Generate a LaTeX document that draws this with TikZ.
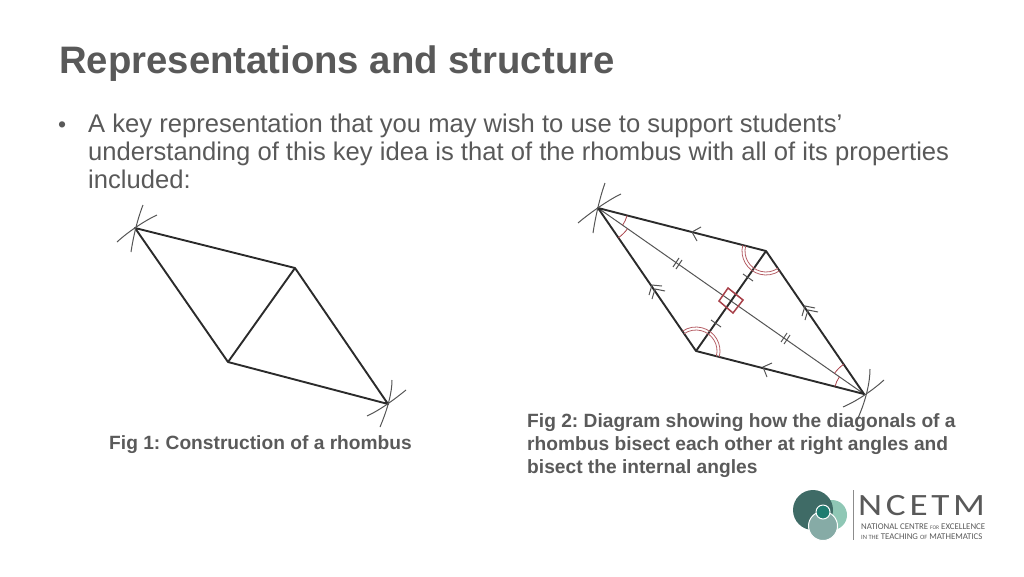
\documentclass[tikz,border=0pt]{standalone}
\usepackage{fontspec}
\setmainfont{Liberation Sans}
\newfontfamily\logofont{Carlito}
\newfontfamily\logowide[LetterSpace=12,FakeStretch=1.2]{Carlito}
\definecolor{txt}{HTML}{595959}
\definecolor{lab}{HTML}{5A5A5A}
\definecolor{edge}{HTML}{2B2B2B}
\definecolor{mark}{HTML}{555555}
\definecolor{ang}{HTML}{A8414A}
\definecolor{logodark}{HTML}{3F6B66}
\definecolor{logolight}{HTML}{8FC7B5}
\definecolor{logomid}{HTML}{86ABA6}
\definecolor{logocore}{HTML}{1F7C70}
\tikzset{
  edgeline/.style={draw=edge,line width=1.9pt},
  diagline/.style={draw=mark,line width=1pt},
  compass/.style={draw=mark,line width=1pt},
  tickmark/.style={draw=mark,line width=1pt},
  anglemark/.style={draw=ang,line width=0.8pt},
  doublemark/.style={draw=ang!85!white,line width=0.8pt},
  textline/.style={anchor=base west,inner sep=0pt,text=txt,font=\fontsize{25.6}{28}\selectfont},
  caption/.style={anchor=base west,inner sep=0pt,text=lab,font=\frenchspacing\bfseries\fontsize{19.18}{23}\selectfont},
  logosmall/.style={anchor=base west,inner sep=0pt,text=txt,font=\logofont\fontsize{8.8}{9}\selectfont}
}
\begin{document}
\begin{tikzpicture}[x=1pt,y=-1pt]
\useasboundingbox (0,0) rectangle (1024,576);
% title and body
\node[anchor=base west,inner sep=0pt,text=txt,font=\bfseries\fontsize{38.3}{40}\selectfont] (title) at (59,73) {Representations and structure};
\node[anchor=base west,inner sep=0pt,text=txt,font=\fontsize{23}{28}\selectfont] (bullet) at (58,132) {•};
\node[textline] (l1) at (88,132) {A key representation that you may wish to use to support students’};
\node[textline] (l2) at (88,160) {understanding of this key idea is that of the rhombus with all of its properties};
\node[textline] (l3) at (88,188) {included:};
% Fig 1
\coordinate (A) at (135,228);
\coordinate (B) at (295,268);
\coordinate (C) at (388,404);
\coordinate (D) at (228,362);
\draw[edgeline,line join=round] (A) -- (B) -- (C) -- (D) -- cycle;
\draw[edgeline] (B) -- (D);
\draw[compass] (143,205) .. controls (139,215) and (134,232) .. (131,252);
\draw[compass] (157,215) .. controls (148,219) and (130,230) .. (117,242);
\draw[compass] (392,380) .. controls (392,392) and (388,408) .. (380,427);
\draw[compass] (406,390) .. controls (396,398) and (382,409) .. (367,416);
\node[caption] (cap1) at (109,449) {Fig 1: Construction of a rhombus};
% Fig 2
\coordinate (P) at (598,208);
\coordinate (Q) at (766,251);
\coordinate (R) at (864,394);
\coordinate (S) at (696,351);
\draw[diagline] (P) -- (R);
\draw[edgeline,line join=round] (P) -- (Q) -- (R) -- (S) -- cycle;
\draw[edgeline] (Q) -- (S);
\draw[compass] (605,183) .. controls (601,194) and (596,213) .. (593,233);
\draw[compass] (621,194) .. controls (612,198) and (592,211) .. (578,223);
\draw[compass] (870,369) .. controls (870,382) and (866,400) .. (858,418);
\draw[compass] (884,380) .. controls (874,389) and (859,400) .. (843,407);
% parallel marks
\draw[tickmark] (701,227) -- (692,232) -- (697,241);
\draw[tickmark] (772,363) -- (763,367) -- (767,377);
\draw[tickmark] (662,286) -- (652,285) -- (649,295);
\draw[tickmark] (665,291) -- (655,289) -- (652,299);
\draw[tickmark] (815,308) -- (805,306) -- (802,316);
\draw[tickmark] (818,312) -- (808,310) -- (805,320);
% equal marks
\draw[tickmark] (673,267) -- (679,258);
\draw[tickmark] (676,269) -- (682,260);
\draw[tickmark] (781,342) -- (787,333);
\draw[tickmark] (784,344) -- (790,335);
\draw[tickmark] (743,274) -- (753,281);
\draw[tickmark] (711,320) -- (721,327);
% right angle
\draw[draw=ang,line width=1.5pt,line join=miter] (728,288) -- (743,300) -- (733,313) -- (719,301) -- cycle;
% angle marks
\draw[doublemark] (Q) ++(165.6:21pt) arc[start angle=165.6,end angle=304.4,radius=21pt];
\draw[doublemark] (Q) ++(165.6:24pt) arc[start angle=165.6,end angle=304.4,radius=24pt];
\draw[doublemark] (S) ++(-14.4:21pt) arc[start angle=-14.4,end angle=124.4,radius=21pt];
\draw[doublemark] (S) ++(-14.4:24pt) arc[start angle=-14.4,end angle=124.4,radius=24pt];
\draw[anglemark] (P) ++(-14.4:30pt) arc[start angle=-14.4,end angle=-35,radius=30pt];
\draw[anglemark] (P) ++(-35:36pt) arc[start angle=-35,end angle=-55.6,radius=36pt];
\draw[anglemark] (R) ++(165.6:30pt) arc[start angle=165.6,end angle=145,radius=30pt];
\draw[anglemark] (R) ++(145:36pt) arc[start angle=145,end angle=124.4,radius=36pt];
\node[caption] (cap2a) at (527,427.7) {Fig 2: Diagram showing how the diagonals of a};
\node[caption] (cap2b) at (527,450.7) {rhombus bisect each other at right angles and};
\node[caption] (cap2c) at (527,473.7) {bisect the internal angles};
% logo
\fill[logolight] (832,515) circle[radius=15pt];
\fill[logodark] (813,510) circle[radius=20pt];
\draw[white,line width=1pt,fill=logomid] (823,526) circle[radius=14.5pt];
\draw[white,line width=1pt,fill=logocore] (823,512) circle[radius=7pt];
\draw[draw=black!45,line width=0.8pt] (853,490) -- (853,540);
\node[anchor=base west,inner sep=0pt,text=txt,font=\logowide\fontsize{31}{32}\selectfont] (ncetm) at (858,515) {NCETM};
\node[logosmall] (lg1) at (861,529) {NATIONAL CENTRE {\fontsize{5.5}{6}\selectfont FOR} EXCELLENCE};
\node[logosmall] (lg2) at (861,539) {{\fontsize{6.5}{6}\selectfont IN THE} TEACHING {\fontsize{6.5}{6}\selectfont OF} MATHEMATICS};
\end{tikzpicture}
\end{document}
